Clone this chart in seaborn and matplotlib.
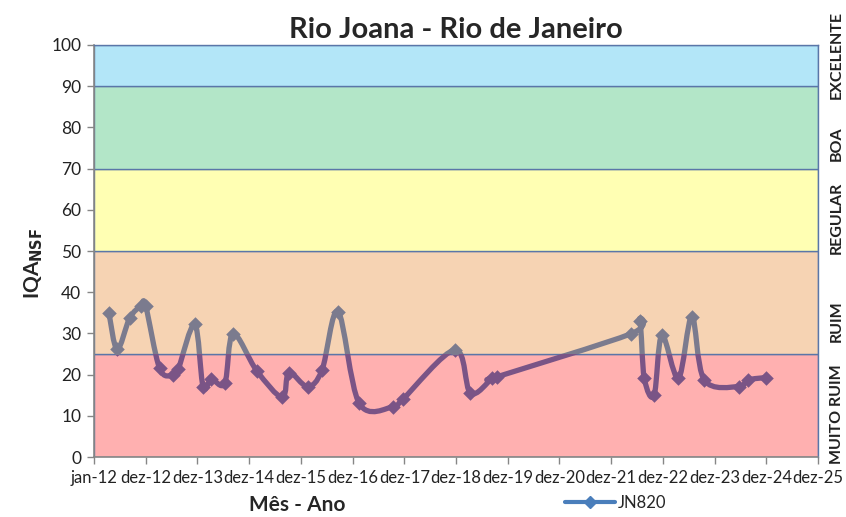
import numpy as np
import matplotlib
matplotlib.use("Agg")
import matplotlib.pyplot as plt
import seaborn as sns
from matplotlib.path import Path
from matplotlib.patches import PathPatch, Rectangle
from matplotlib.lines import Line2D

# ---- data (x = position on the tick scale, 0 = jan-12, 1 = dez-12, ...) ----
tick_labels = ["jan-12", "dez-12", "dez-13", "dez-14", "dez-15", "dez-16", "dez-17",
               "dez-18", "dez-19", "dez-20", "dez-21", "dez-22", "dez-23", "dez-24", "dez-25"]

x_pos = [0.29, 0.45, 0.69, 0.91, 1.00, 1.27, 1.53, 1.63, 1.95, 2.11, 2.27, 2.53, 2.69,
         3.15, 3.64, 3.77, 4.13, 4.41, 4.72, 5.13, 5.79, 5.97, 6.98, 7.28, 7.70, 7.80,
         10.38, 10.55, 10.64, 10.83, 10.98, 11.30, 11.56, 11.80, 12.47, 12.64, 13.00]
iqa = [35.0, 26.1, 33.7, 36.7, 36.7, 21.5, 19.9, 21.3, 32.2, 17.1, 18.9, 17.9, 29.9,
       20.9, 14.5, 20.5, 17.1, 21.1, 35.3, 13.0, 12.2, 14.0, 26.0, 15.5, 19.1, 19.5,
       29.9, 33.1, 19.1, 15.0, 29.6, 19.1, 34.1, 18.7, 17.1, 18.7, 19.3]

band_edges = [0, 25, 50, 70, 90, 100]
band_colors = ["#ffb0b0", "#f6d3b3", "#ffffb3", "#b3e6c8", "#b3e6f8"]
band_names = ["MUITO RUIM", "RUIM", "REGULAR", "BOA", "EXCELENTE"]
band_label_y = [10.5, 33, 58, 76, 97.5]


def smooth_path(xs, ys):
    # Excel-style smoothed line: Catmull-Rom segments as cubic Beziers
    pts = np.column_stack([xs, ys])
    verts = [pts[0]]
    codes = [Path.MOVETO]
    n = len(pts)
    for i in range(n - 1):
        p0 = pts[i - 1] if i > 0 else pts[i]
        p1, p2 = pts[i], pts[i + 1]
        p3 = pts[i + 2] if i + 2 < n else pts[i + 1]
        verts += [p1 + (p2 - p0) / 6, p2 - (p3 - p1) / 6, p2]
        codes += [Path.CURVE4] * 3
    return Path(verts, codes)


sns.set_theme(style="white")
plt.rcParams["font.family"] = ["Lato", "DejaVu Sans"]

fig = plt.figure(figsize=(8.46, 5.17), dpi=100)
ax = fig.add_axes([0.111, 0.116, 0.856, 0.797])

for lo, hi, c in zip(band_edges[:-1], band_edges[1:], band_colors):
    ax.axhspan(lo, hi, facecolor=c, edgecolor="#5a76a8", lw=1.0, zorder=0)

path = smooth_path(x_pos, iqa)
for (lo, hi), col in [((0, 25), "#7a5486"), ((25, 100), "#7b7b8e")]:
    clip = Rectangle((-1, lo), 20, hi - lo, transform=ax.transData)
    patch = PathPatch(path, facecolor="none", edgecolor=col, lw=3.8,
                      capstyle="round", joinstyle="round", zorder=3)
    ax.add_patch(patch)
    patch.set_clip_path(clip)
    sns.scatterplot(x=x_pos, y=iqa, marker="D", s=55, color=col,
                    edgecolor=col, linewidth=0, ax=ax, zorder=4)
    ax.collections[-1].set_clip_path(clip)

ax.set_xlim(0, 14)
ax.set_ylim(0, 100)
ax.set_xticks(range(len(tick_labels)))
ax.set_xticklabels(tick_labels, fontsize=12, color="#222222")
ax.set_yticks(range(0, 101, 10))
ax.tick_params(axis="y", labelsize=12.5, colors="#222222", length=5, width=1,
               direction="out", left=True, color="#868686", pad=4)
ax.tick_params(axis="x", length=5, width=1, direction="out", bottom=True,
               color="#868686", pad=4)
for side in ["left", "bottom"]:
    ax.spines[side].set_color("#868686")
    ax.spines[side].set_linewidth(1.2)
for side in ["top", "right"]:
    ax.spines[side].set_color("#5a76a8")
    ax.spines[side].set_linewidth(1.0)

ax.set_title("Rio Joana - Rio de Janeiro", fontsize=21, fontweight="bold", pad=5)
ax.set_xlabel("Mês - Ano", fontsize=15, fontweight="bold")
ax.xaxis.set_label_coords(0.281, -0.093)
ax.set_ylabel(r"IQA$_{\mathbf{NSF}}$", fontsize=15, fontweight="bold")
ax.yaxis.set_label_coords(-0.068, 0.47)

for name, yv in zip(band_names, band_label_y):
    ax.text(1.026, yv, name, transform=ax.get_yaxis_transform(), rotation=90,
            ha="center", va="center", fontsize=11.5, fontweight="bold", color="#222222",
            clip_on=False)

handle = Line2D([], [], color="#4a7ebb", lw=3, marker="D", markersize=6)
fig.legend([handle], ["JN820"], loc="center", bbox_to_anchor=(0.728, 0.027),
           frameon=False, fontsize=12, handlelength=3, handletextpad=0.2)

fig.savefig("out.png", dpi=100)
